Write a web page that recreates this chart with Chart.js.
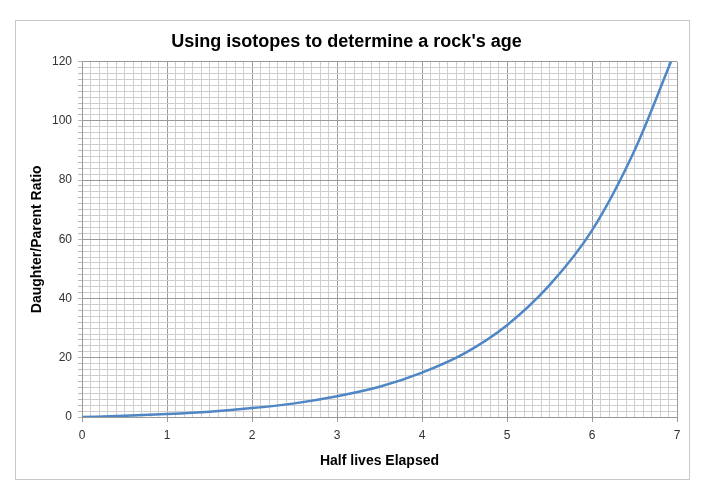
<!DOCTYPE html>
<html>
<head>
<meta charset="utf-8">
<script src="https://cdn.jsdelivr.net/npm/chart.js@4"></script>
<style>
  body { margin: 0; background: #fff; }
  #box {
    position: absolute; left: 15px; top: 20px;
    width: 675px; height: 460px;
    box-sizing: border-box; border: 1px solid #c8c8c8;
  }
</style>
</head>
<body>
<div id="box"><canvas id="chart"></canvas></div>
<script>
// half lives elapsed vs daughter/parent ratio
const halfLives = [0, 0.5, 1, 1.5, 2, 2.5, 3, 3.5, 4, 4.5, 5, 5.5, 6, 6.5, 6.93];
const ratios    = [0, 0.4, 1, 1.8, 3, 4.6, 7, 10.2, 15, 21.5, 31, 44.5, 63, 90, 120];

const xLabels = [0, 1, 2, 3, 4, 5, 6, 7];
const yLabels = [0, 20, 40, 60, 80, 100, 120];

const isMajor = (v, list) => list.some(l => Math.abs(l - v) < 1e-6);

new Chart(document.getElementById("chart"), {
  type: "line",
  data: {
    datasets: [{
      label: "Ratio",
      data: halfLives.map((h, i) => ({ x: h, y: ratios[i] })),
      borderColor: "#4f86c6",
      borderWidth: 2.5,
      pointRadius: 0,
      cubicInterpolationMode: "monotone",
      fill: false
    }]
  },
  options: {
    animation: false,
    responsive: true,
    maintainAspectRatio: false,
    layout: { padding: { left: 0, right: 12, top: 0, bottom: 0 } },
    plugins: {
      legend: { display: false },
      tooltip: { enabled: false },
      title: {
        display: true,
        text: "Using isotopes to determine a rock's age",
        color: "#000",
        font: { family: "Liberation Sans, Arial", size: 18, weight: "bold" },
        padding: { top: 10, bottom: 9 }
      }
    },
    scales: {
      x: {
        type: "linear",
        min: 0, max: 7,
        afterFit: s => { s.height = 62; },
        ticks: {
          stepSize: 0.1,
          autoSkip: false,
          maxRotation: 0,
          padding: 6,
          color: "#333",
          font: { family: "Liberation Sans, Arial", size: 12 },
          callback: v => isMajor(v, xLabels) ? String(Math.round(v)) : ""
        },
        grid: {
          color: c => isMajor(c.tick.value, xLabels) ? "#9a9a9a" : "#cfcfcf",
          tickColor: c => isMajor(c.tick.value, xLabels) ? "#9a9a9a" : "rgba(0,0,0,0)",
          tickLength: 5
        },
        border: { color: "#9a9a9a" },
        title: {
          display: true,
          text: "Half lives Elapsed",
          color: "#000",
          font: { family: "Liberation Sans, Arial", size: 14, weight: "bold" },
          padding: { top: 0, bottom: 9 }
        }
      },
      y: {
        min: 0, max: 120,
        afterFit: s => { s.width = 66; },
        ticks: {
          stepSize: 2,
          autoSkip: false,
          padding: 6,
          color: "#333",
          font: { family: "Liberation Sans, Arial", size: 12 },
          callback: v => isMajor(v, yLabels) ? String(Math.round(v)) : ""
        },
        grid: {
          color: c => isMajor(c.tick.value, yLabels) ? "#9a9a9a" : "#cfcfcf",
          tickColor: "#b8b8b8",
          tickLength: 4
        },
        border: { color: "#9a9a9a" },
        title: {
          display: true,
          text: "Daughter/Parent Ratio",
          color: "#000",
          font: { family: "Liberation Sans, Arial", size: 14, weight: "bold" },
          padding: { top: 13, bottom: 0 }
        }
      }
    }
  }
});
</script>
</body>
</html>
